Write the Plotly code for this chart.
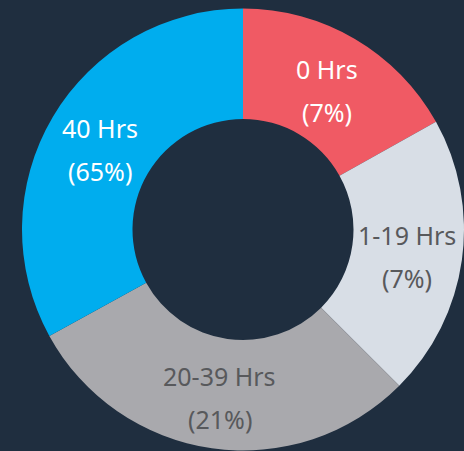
import math
import plotly.graph_objects as go

labels = ["0 Hrs", "1-19 Hrs", "20-39 Hrs", "40 Hrs"]
values = [16.9, 20.6, 29.5, 33.0]
pct_text = ["(7%)", "(7%)", "(21%)", "(65%)"]
colors = ["#F05A64", "#D8DEE6", "#A9A9AD", "#00ADEE"]
text_colors = ["#FFFFFF", "#58595C", "#58595C", "#FFFFFF"]

W, H = 464, 451
M = dict(l=22, r=0, t=8, b=0)
HOLE = 0.5
FONT = "Noto Sans"
FSIZE = 25
LINE_GAP = 43

fig = go.Figure(go.Pie(
    labels=labels,
    values=values,
    textinfo="none",
    marker=dict(colors=colors, line=dict(width=0)),
    hole=HOLE,
    sort=False,
    direction="clockwise",
    rotation=0,
    showlegend=False,
    hoverinfo="skip",
))

# label placement: slice mid-angle, mid-ring radius
pw = W - M["l"] - M["r"]
ph = H - M["t"] - M["b"]
R = min(pw, ph) / 2
r_lab = (1 + HOLE) / 2 * R
total = sum(values)
cum = 0.0
for lab, pct, v, tc in zip(labels, pct_text, values, text_colors):
    mid = (cum + v / 2) / total * 2 * math.pi
    cum += v
    x = 0.5 + r_lab * math.sin(mid) / pw
    y = 0.5 + r_lab * math.cos(mid) / ph
    for txt, ys in ((lab, LINE_GAP / 2), (pct, -LINE_GAP / 2)):
        fig.add_annotation(
            x=x, y=y, xref="paper", yref="paper", text=txt,
            showarrow=False, yshift=ys - 4, xanchor="center", yanchor="middle",
            font=dict(family=FONT, size=FSIZE, color=tc),
        )

fig.update_layout(
    width=W, height=H,
    margin=M,
    paper_bgcolor="#1F2E3F",
    plot_bgcolor="#1F2E3F",
)

fig.write_html(
    "out.html",
    config={"displayModeBar": False},
    post_script="document.body.style.margin='0';document.body.style.background='#1F2E3F';",
)
